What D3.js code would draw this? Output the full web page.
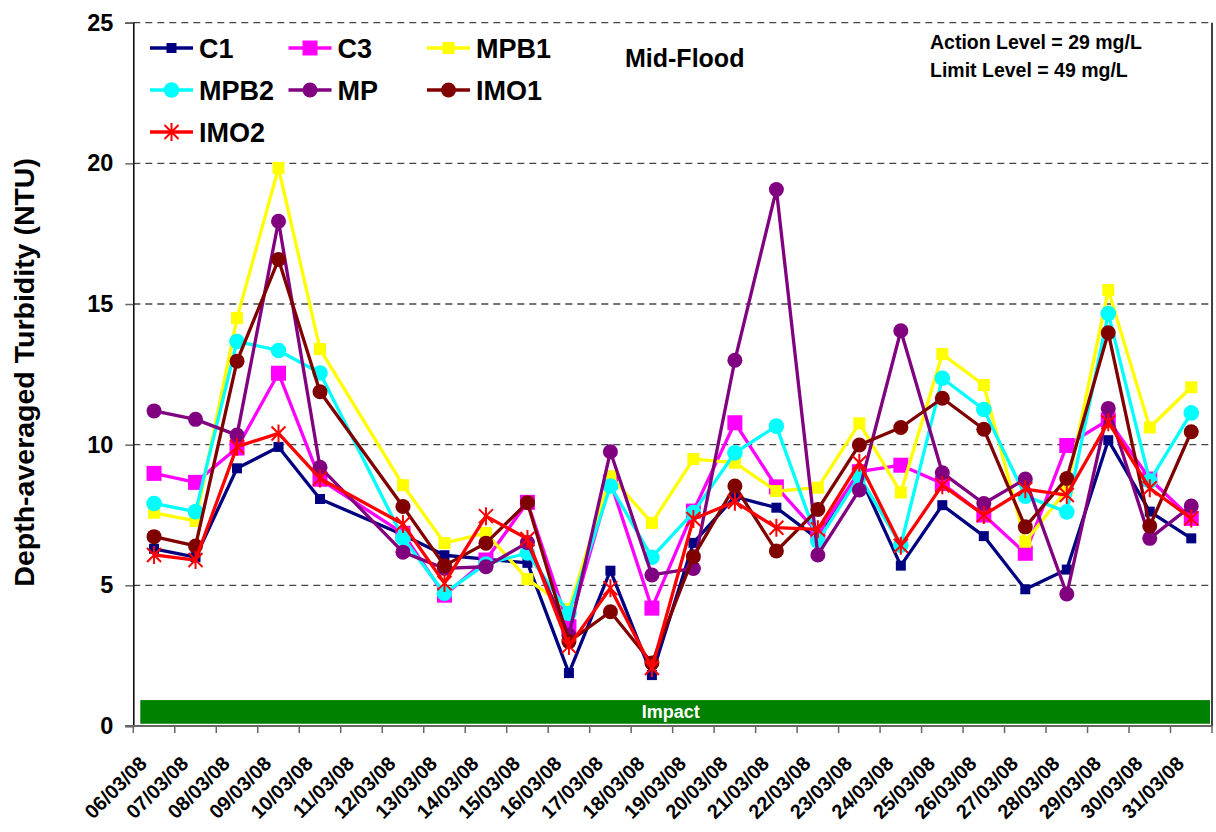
<!DOCTYPE html>
<html>
<head>
<meta charset="utf-8">
<script src="https://cdn.jsdelivr.net/npm/d3@7/dist/d3.min.js"></script>
<style>
  html, body { margin: 0; padding: 0; background: #fff; }
  svg text { font-family: "Liberation Sans", Arial, sans-serif; font-weight: bold; }
</style>
</head>
<body>
<div id="chart"></div>
<script>
// Mid-Flood depth-averaged turbidity, 06/03/08 - 31/03/08 (no survey on 11/03)
const dates = ["06/03/08", "07/03/08", "08/03/08", "09/03/08", "10/03/08", "11/03/08", "12/03/08",
    "13/03/08", "14/03/08", "15/03/08", "16/03/08", "17/03/08", "18/03/08", "19/03/08", "20/03/08",
    "21/03/08", "22/03/08", "23/03/08", "24/03/08", "25/03/08", "26/03/08", "27/03/08", "28/03/08",
    "29/03/08", "30/03/08", "31/03/08"];

const c1   = [6.30, 6.00, 9.16, 9.92, 8.07, null, 6.80, 6.07, 5.93, 5.80, 1.88, 5.52, 1.81, 6.51, 8.15, 7.76, 6.65, 8.92, 5.70, 7.85, 6.75, 4.86, 5.56, 10.16, 7.62, 6.67];
const c3   = [8.98, 8.66, 9.88, 12.54, 8.77, null, 6.85, 4.65, 5.90, 7.95, 3.53, 8.68, 4.19, 7.64, 10.78, 8.50, 6.86, 9.04, 9.27, 8.62, 7.50, 6.14, 9.97, 10.88, 8.78, 7.38];
const mpb1 = [7.58, 7.29, 14.50, 19.84, 13.40, null, 8.56, 6.50, 6.86, 5.22, 4.15, 8.88, 7.22, 9.49, 9.36, 8.35, 8.47, 10.76, 8.30, 13.22, 12.12, 6.55, 8.40, 15.50, 10.61, 12.04];
const mpb2 = [7.91, 7.62, 13.67, 13.35, 12.55, null, 6.68, 4.72, 5.76, 6.15, 4.00, 8.53, 6.00, 7.59, 9.71, 10.66, 6.57, 8.88, 6.43, 12.36, 11.25, 8.17, 7.61, 14.66, 8.71, 11.13];
const mp   = [11.20, 10.90, 10.34, 17.94, 9.20, null, 6.18, 5.60, 5.66, 6.52, 3.23, 9.75, 5.37, 5.60, 13.00, 19.07, 6.08, 8.39, 14.05, 9.00, 7.91, 8.78, 4.69, 11.29, 6.67, 7.82];
const imo1 = [6.73, 6.40, 12.97, 16.58, 11.88, null, 7.80, 5.70, 6.50, 7.94, 3.00, 4.06, 2.24, 6.02, 8.53, 6.22, 7.70, 9.99, 10.61, 11.65, 10.55, 7.08, 8.80, 13.98, 7.11, 10.46];
const imo2 = [6.08, 5.90, 9.93, 10.40, 8.80, null, 7.18, 5.08, 7.46, 6.65, 2.84, 4.90, 2.06, 7.36, 7.97, 7.05, 6.99, 9.36, 6.41, 8.56, 7.50, 8.42, 8.21, 10.80, 8.45, 7.38];

const seriesNames = ["C1", "C3", "MPB1", "MPB2", "MP", "IMO1", "IMO2"];
const seriesValues = [c1, c3, mpb1, mpb2, mp, imo1, imo2];
const yTicks = [0, 5, 10, 15, 20, 25];

const phaseLabel = "Impact";
const titleText = "Mid-Flood";
const levelNotes = ["Action Level = 29 mg/L", "Limit Level = 49 mg/L"];
const yLabel = "Depth-averaged Turbidity (NTU)";

// look of each station
const styles = {
    C1:   { color: "#000080", shape: "square", size: 10 },
    C3:   { color: "#ff00ff", shape: "square", size: 15 },
    MPB1: { color: "#ffff00", shape: "square", size: 12 },
    MPB2: { color: "#00ffff", shape: "circle", size: 7.8 },
    MP:   { color: "#800080", shape: "circle", size: 7.5 },
    IMO1: { color: "#800000", shape: "circle", size: 7.5 },
    IMO2: { color: "#ff0000", shape: "star", size: 7 }
};

const W = 1216, H = 832;
const margin = { top: 22.7, right: 4, bottom: 106, left: 133.3 };

const svg = d3.select("#chart").append("svg")
    .attr("width", W)
    .attr("height", H);

const x = d3.scaleBand()
    .domain(dates)
    .range([margin.left, W - margin.right]);

const y = d3.scaleLinear()
    .domain([0, 25])
    .range([H - margin.bottom, margin.top]);

const cx = d => x(d) + x.bandwidth() / 2;

// gridlines (dashed)
svg.append("g")
    .selectAll("line")
    .data(yTicks.filter(t => t > 0))
    .enter()
    .append("line")
    .attr("x1", margin.left)
    .attr("x2", W - margin.right)
    .attr("y1", d => y(d))
    .attr("y2", d => y(d))
    .attr("stroke", "#444")
    .attr("stroke-width", 1.3)
    .attr("stroke-dasharray", "7,5");

// right border
svg.append("line")
    .attr("x1", W - margin.right)
    .attr("x2", W - margin.right)
    .attr("y1", y(25))
    .attr("y2", y(0))
    .attr("stroke", "#000")
    .attr("stroke-width", 1.5);

// Impact phase bar
svg.append("rect")
    .attr("x", x(dates[0]) + 7)
    .attr("y", y(0.92))
    .attr("width", x(dates[dates.length - 1]) + x.bandwidth() - x(dates[0]) - 9)
    .attr("height", y(0.08) - y(0.92))
    .attr("fill", "#008000");

svg.append("text")
    .attr("x", (margin.left + W - margin.right) / 2 - 2)
    .attr("y", y(0.5))
    .attr("dy", "0.35em")
    .attr("text-anchor", "middle")
    .attr("font-size", 18)
    .attr("fill", "#fff")
    .text(phaseLabel);

// y axis
const yAxis = svg.append("g")
    .attr("transform", `translate(${margin.left},0)`)
    .call(d3.axisLeft(y).tickValues(yTicks).tickSize(8).tickPadding(12));

yAxis.select(".domain").attr("stroke", "#000").attr("stroke-width", 1.5);
yAxis.selectAll(".tick line").attr("stroke", "#666").attr("stroke-width", 1.5);
yAxis.selectAll(".tick text")
    .attr("font-size", 23.5)
    .attr("font-family", "Liberation Sans, Arial, sans-serif")
    .attr("font-weight", "bold")
    .attr("fill", "#000");

// x axis: ticks on band edges, labels rotated under band centres
const xAxis = svg.append("g")
    .attr("transform", `translate(0,${y(0)})`)
    .call(d3.axisBottom(x).tickSize(0).tickPadding(0));

xAxis.select(".domain").remove();
xAxis.append("line")
    .attr("x1", margin.left - 8)
    .attr("x2", W - margin.right)
    .attr("stroke", "#666")
    .attr("stroke-width", 2);

xAxis.selectAll(".edge")
    .data(dates.map(d => x(d)).concat([x.range()[1]]))
    .enter()
    .append("line")
    .attr("class", "edge")
    .attr("x1", d => d)
    .attr("x2", d => d)
    .attr("y1", 0)
    .attr("y2", 7)
    .attr("stroke", "#666")
    .attr("stroke-width", 1.5);

xAxis.selectAll(".tick text")
    .attr("y", 0)
    .attr("dy", null)
    .attr("text-anchor", "end")
    .attr("transform", "translate(-6,39) rotate(-45)")
    .attr("font-size", 20)
    .attr("font-family", "Liberation Sans, Arial, sans-serif")
    .attr("font-weight", "bold")
    .attr("fill", "#000");

// y axis title
svg.append("text")
    .attr("transform", `translate(34,${(y(0) + y(25)) / 2 - 2}) rotate(-90)`)
    .attr("text-anchor", "middle")
    .attr("font-size", 28.5)
    .text(yLabel);

// markers
function drawMarker(sel, st) {
    if (st.shape === "square") {
        sel.append("rect")
            .attr("x", -st.size / 2)
            .attr("y", -st.size / 2)
            .attr("width", st.size)
            .attr("height", st.size)
            .attr("fill", st.color);
    } else if (st.shape === "circle") {
        sel.append("circle")
            .attr("r", st.size)
            .attr("fill", st.color);
    } else {
        const s = st.size;
        sel.append("path")
            .attr("d", `M${-s},${-s}L${s},${s}M${-s},${s}L${s},${-s}M0,${-s - 2}L0,${s + 2}`)
            .attr("stroke", st.color)
            .attr("stroke-width", 2)
            .attr("fill", "none");
    }
}

const line = d3.line()
    .x(d => cx(d.date))
    .y(d => y(d.value));

// series drawn in order so later stations sit on top
seriesNames.forEach((name, i) => {
    const st = styles[name];
    const pts = dates
        .map((d, j) => ({ date: d, value: seriesValues[i][j] }))
        .filter(p => p.value != null);

    const g = svg.append("g").attr("class", "series");

    g.append("path")
        .datum(pts)
        .attr("d", line)
        .attr("fill", "none")
        .attr("stroke", st.color)
        .attr("stroke-width", 3.3)
        .attr("stroke-linejoin", "round");

    g.selectAll(".pt")
        .data(pts)
        .enter()
        .append("g")
        .attr("class", "pt")
        .attr("transform", p => `translate(${cx(p.date)},${y(p.value)})`)
        .each(function () { drawMarker(d3.select(this), st); });
});

// legend (3 columns)
const legend = svg.append("g").attr("class", "legend");
seriesNames.forEach((name, i) => {
    const col = i % 3, row = Math.floor(i / 3);
    const item = legend.append("g")
        .attr("transform", `translate(${150 + col * 138.5},${48 + row * 42})`);
    item.append("line")
        .attr("x1", 0)
        .attr("x2", 43)
        .attr("stroke", styles[name].color)
        .attr("stroke-width", 3.3);
    const m = item.append("g").attr("transform", "translate(21.5,0)");
    drawMarker(m, styles[name]);
    item.append("text")
        .attr("x", 49)
        .attr("dy", "0.36em")
        .attr("font-size", 27)
        .text(name);
});

// notes
svg.append("text")
    .attr("x", 625)
    .attr("y", 67)
    .attr("font-size", 25)
    .text(titleText);

svg.selectAll(".note")
    .data(levelNotes)
    .enter()
    .append("text")
    .attr("class", "note")
    .attr("x", 930)
    .attr("y", (d, i) => 49 + i * 28)
    .attr("font-size", 19.5)
    .text(d => d);
</script>
</body>
</html>
